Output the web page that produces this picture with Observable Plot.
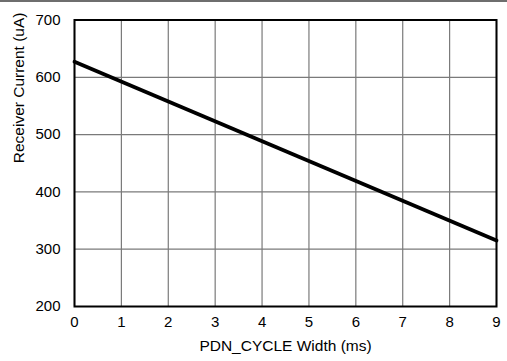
<!DOCTYPE html>
<html>
<head>
<meta charset="utf-8">
<script src="https://cdn.jsdelivr.net/npm/d3@7"></script>
<script src="https://cdn.jsdelivr.net/npm/@observablehq/plot@0.6"></script>
<style>
  html, body { margin: 0; padding: 0; background: #fff; }
  #wrap { position: relative; width: 507px; height: 361px; }
  #topline { position: absolute; left: 0; top: 0; width: 507px; height: 2px; background: #6e6e6e; }
  svg { font-family: "Liberation Sans", Arial, sans-serif; }
</style>
</head>
<body>
<div id="wrap"><div id="topline"></div></div>
<script>
// Receiver current versus PDN_CYCLE width
const widthMs = [0, 9];
const currentUA = [627, 315];
const xTicks = [0, 1, 2, 3, 4, 5, 6, 7, 8, 9];
const yTicks = [200, 300, 400, 500, 600, 700];

const series = widthMs.map((x, i) => ({x, y: currentUA[i]}));

const chart = Plot.plot({
  width: 507,
  height: 361,
  marginLeft: 74,
  marginRight: 11,
  marginTop: 19.5,
  marginBottom: 55,
  style: {fontFamily: "Liberation Sans, Arial, sans-serif", fontSize: "15px", color: "#000", background: "transparent"},
  x: {domain: [0, 9], label: null, axis: null},
  y: {domain: [200, 700], label: null, axis: null},
  marks: [
    Plot.gridX(xTicks, {stroke: "#7a7a7a", strokeOpacity: 1, strokeWidth: 1.2}),
    Plot.gridY(yTicks, {stroke: "#7a7a7a", strokeOpacity: 1, strokeWidth: 1.2}),
    Plot.frame({stroke: "#000", strokeWidth: 2}),
    // tick labels placed through the x and y scales
    Plot.text(xTicks, {x: d => d, frameAnchor: "bottom", dy: 20, fontSize: 15, fill: "#000"}),
    Plot.text(yTicks, {y: d => d, frameAnchor: "left", dx: -14, textAnchor: "end", fontSize: 15, fill: "#000"}),
    Plot.text(["PDN_CYCLE Width (ms)"], {frameAnchor: "bottom", dy: 44, fontSize: 15.5}),
    Plot.text(["Receiver Current (uA)"], {frameAnchor: "left", dx: -55, rotate: -90, fontSize: 15.5}),
    Plot.line(series, {x: "x", y: "y", stroke: "#000", strokeWidth: 3.8})
  ]
});
document.getElementById("wrap").appendChild(chart);
</script>
</body>
</html>
